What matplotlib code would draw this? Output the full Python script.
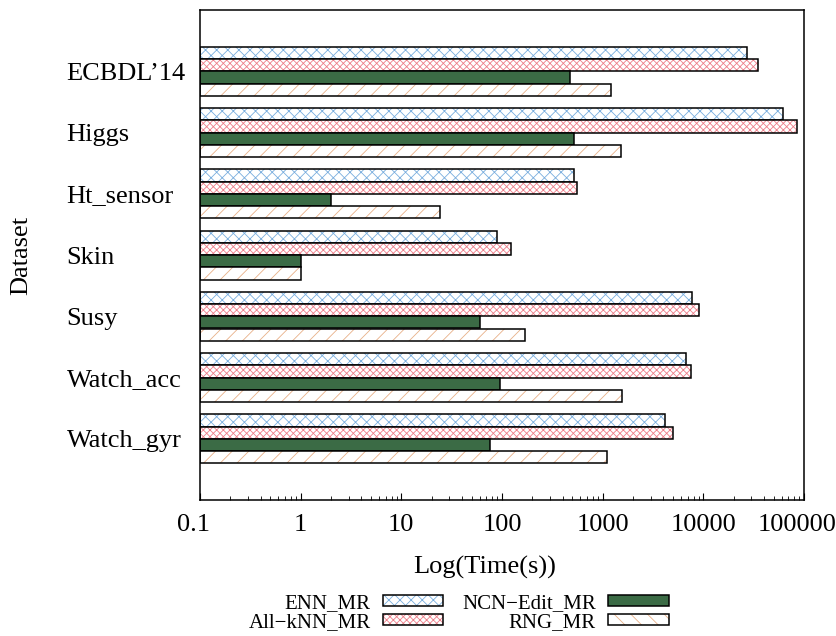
import numpy as np
import matplotlib
matplotlib.use("Agg")
import matplotlib.pyplot as plt
import matplotlib.transforms as mtransforms
from matplotlib.patches import Patch
from matplotlib.legend_handler import HandlerTuple

plt.rcParams['font.family'] = ['Liberation Serif', 'DejaVu Serif']
plt.rcParams['hatch.linewidth'] = 0.6

datasets = ["ECBDL\u201914", "Higgs", "Ht_sensor", "Skin", "Susy", "Watch_acc", "Watch_gyr"]
enn_mr = [26900, 61700, 515, 89, 7700, 6700, 4150]
allknn_mr = [34700, 85000, 560, 123, 9150, 7600, 5000]
ncn_edit_mr = [473, 515, 2.0, 1.0, 61, 96, 76]
rng_mr = [1205, 1515, 24, 1.0, 170, 1550, 1100]
xtick_vals = [0.1, 1, 10, 100, 1000, 10000, 100000]
xtick_labels = ["0.1", "1", "10", "100", "1000", "10000", "100000"]

# name, values, face, hatch colour, bar hatch, legend hatch
series = [
    ("ENN_MR", enn_mr, "white", "#7aaede", "xxx", "xxx"),
    ("All\u2212kNN_MR", allknn_mr, "white", "#ee7f8a", "xxxxx", "xxxxx"),
    ("NCN\u2212Edit_MR", ncn_edit_mr, "#3b6b45", "#3b6b45", None, None),
    ("RNG_MR", rng_mr, "white", "#e8b088", "//", "\\\\"),
]

fig = plt.figure(figsize=(8.37, 6.36), dpi=100)
ax = fig.add_axes([200/837, 1-500/636, 604/837, 490/636])

y = np.arange(len(datasets))
h = 0.2
handles = []
for i, (name, vals, fc, hc, hatch, lhatch) in enumerate(series):
    pos = y + (i - 1.5) * h
    left = 0.1
    widths = np.array(vals) - left
    ax.barh(pos, widths, left=left, height=h, color=fc, edgecolor=hc,
            hatch=hatch, linewidth=0)
    ax.barh(pos, widths, left=left, height=h, fill=False,
            edgecolor="black", linewidth=1.1)
    p1 = Patch(facecolor=fc, edgecolor=hc, hatch=lhatch, linewidth=0)
    p2 = Patch(fill=False, edgecolor="black", linewidth=1.1)
    handles.append(((p1, p2), name))

ax.set_xscale('log')
ax.set_xlim(0.1, 100000)
ax.set_ylim(7, -1)
ax.set_xticks(xtick_vals)
ax.set_xticklabels(xtick_labels)
ax.set_yticks(y)
ax.set_yticklabels(datasets, ha='left')
ax.tick_params(axis='y', length=0, pad=96, labelsize=19)
ax.tick_params(axis='x', which='both', direction='in', top=False, labelsize=19, pad=10)
ax.tick_params(axis='x', which='major', length=5)
ax.tick_params(axis='x', which='minor', length=3)
for s in ax.spines.values():
    s.set_linewidth(1.1)

# end labels sit a little left of their ticks
xlabs = ax.get_xticklabels()
for lab in (xlabs[0], xlabs[-1]):
    lab.set_transform(lab.get_transform() +
                      mtransforms.ScaledTranslation(-7/100, 0, fig.dpi_scale_trans))

ax.set_xlabel("Log(Time(s))", fontsize=19)
ax.xaxis.set_label_coords(0.472, -0.115)
ax.set_ylabel("Dataset", fontsize=19)
ax.yaxis.set_label_coords(-0.278, 0.5)

leg = fig.legend([hh for hh, _ in handles], [n for _, n in handles],
                 handler_map={tuple: HandlerTuple(ndivide=1)},
                 ncol=2, markerfirst=False, frameon=False, fontsize=15,
                 loc='center', bbox_to_anchor=(0.548, 0.036),
                 handlelength=2.9, handleheight=0.46, columnspacing=0.9,
                 labelspacing=0.0, handletextpad=0.6, borderpad=0)

fig.savefig("out.png", dpi=100)
